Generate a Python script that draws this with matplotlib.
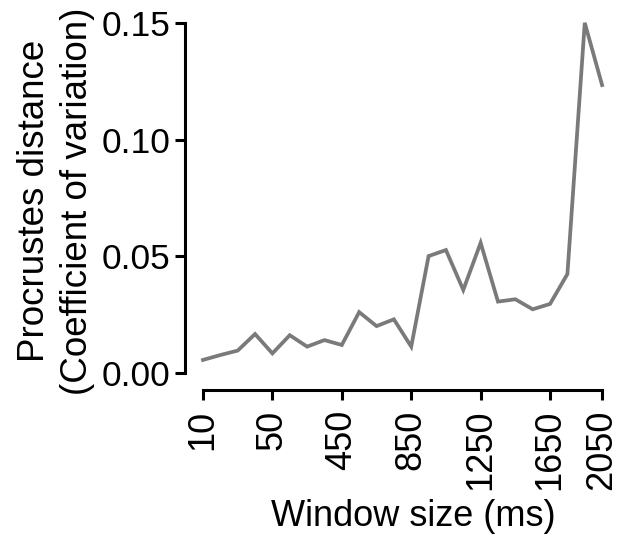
import matplotlib
matplotlib.use("Agg")
import matplotlib.pyplot as plt

plt.rcParams['font.family'] = ['Liberation Sans', 'DejaVu Sans']

# data: index of window along x, values of Procrustes distance CV
window_index = list(range(24))
cv_values = [0.0056, 0.0077, 0.0096, 0.0167, 0.0084, 0.0162, 0.0113, 0.0141,
             0.0120, 0.0261, 0.0201, 0.0230, 0.0113, 0.0501, 0.0527, 0.0356,
             0.0558, 0.0306, 0.0316, 0.0273, 0.0296, 0.0424, 0.1501, 0.1234]
tick_positions = [0, 4, 8, 12, 16, 20, 23]
tick_labels = ["10", "50", "450", "850", "1250", "1650", "2050"]
y_ticks = [0.00, 0.05, 0.10, 0.15]
y_tick_labels = ["0.00", "0.05", "0.10", "0.15"]

W, H = 627, 540
fig = plt.figure(figsize=(W / 100, H / 100), dpi=100)
ax = fig.add_axes([185 / W, 1 - 390 / H, 427 / W, 370 / H])

ax.plot(window_index, cv_values, color='#7a7a7a', lw=2.7, clip_on=False,
        solid_joinstyle='miter')

ax.set_xlim(-1.037, 23.57)
ax.set_ylim(-0.00729, 0.1513)

for s in ['top', 'right']:
    ax.spines[s].set_visible(False)
ax.spines['left'].set_bounds(0, 0.15)
ax.spines['bottom'].set_bounds(0, 23)
for s in ['left', 'bottom']:
    ax.spines[s].set_linewidth(2.2)
    ax.spines[s].set_color('black')

ax.set_yticks(y_ticks)
ax.set_yticklabels(y_tick_labels)
ax.set_xticks(tick_positions)
ax.set_xticklabels(tick_labels, rotation=90)
ax.tick_params(axis='both', length=7, width=2.2, direction='out', colors='black')
ax.tick_params(axis='y', pad=3.5, labelsize=25.5)
ax.tick_params(axis='x', pad=7, labelsize=26)

fig.text(413 / W, 1 - 517 / H, "Window size (ms)", fontsize=26,
         ha='center', va='center')
fig.text(56 / W, 1 - 201 / H, "Procrustes distance\n(Coefficient of variation)",
         fontsize=26.5, ha='center', va='center', rotation=90,
         multialignment='center', linespacing=1.3)

# clipped stray label at the left edge of the reference
fig.text(7 / W, 1 - 413 / H, "2050", fontsize=26, rotation=90,
         ha='right', va='top')

fig.savefig("out.png", dpi=100)
